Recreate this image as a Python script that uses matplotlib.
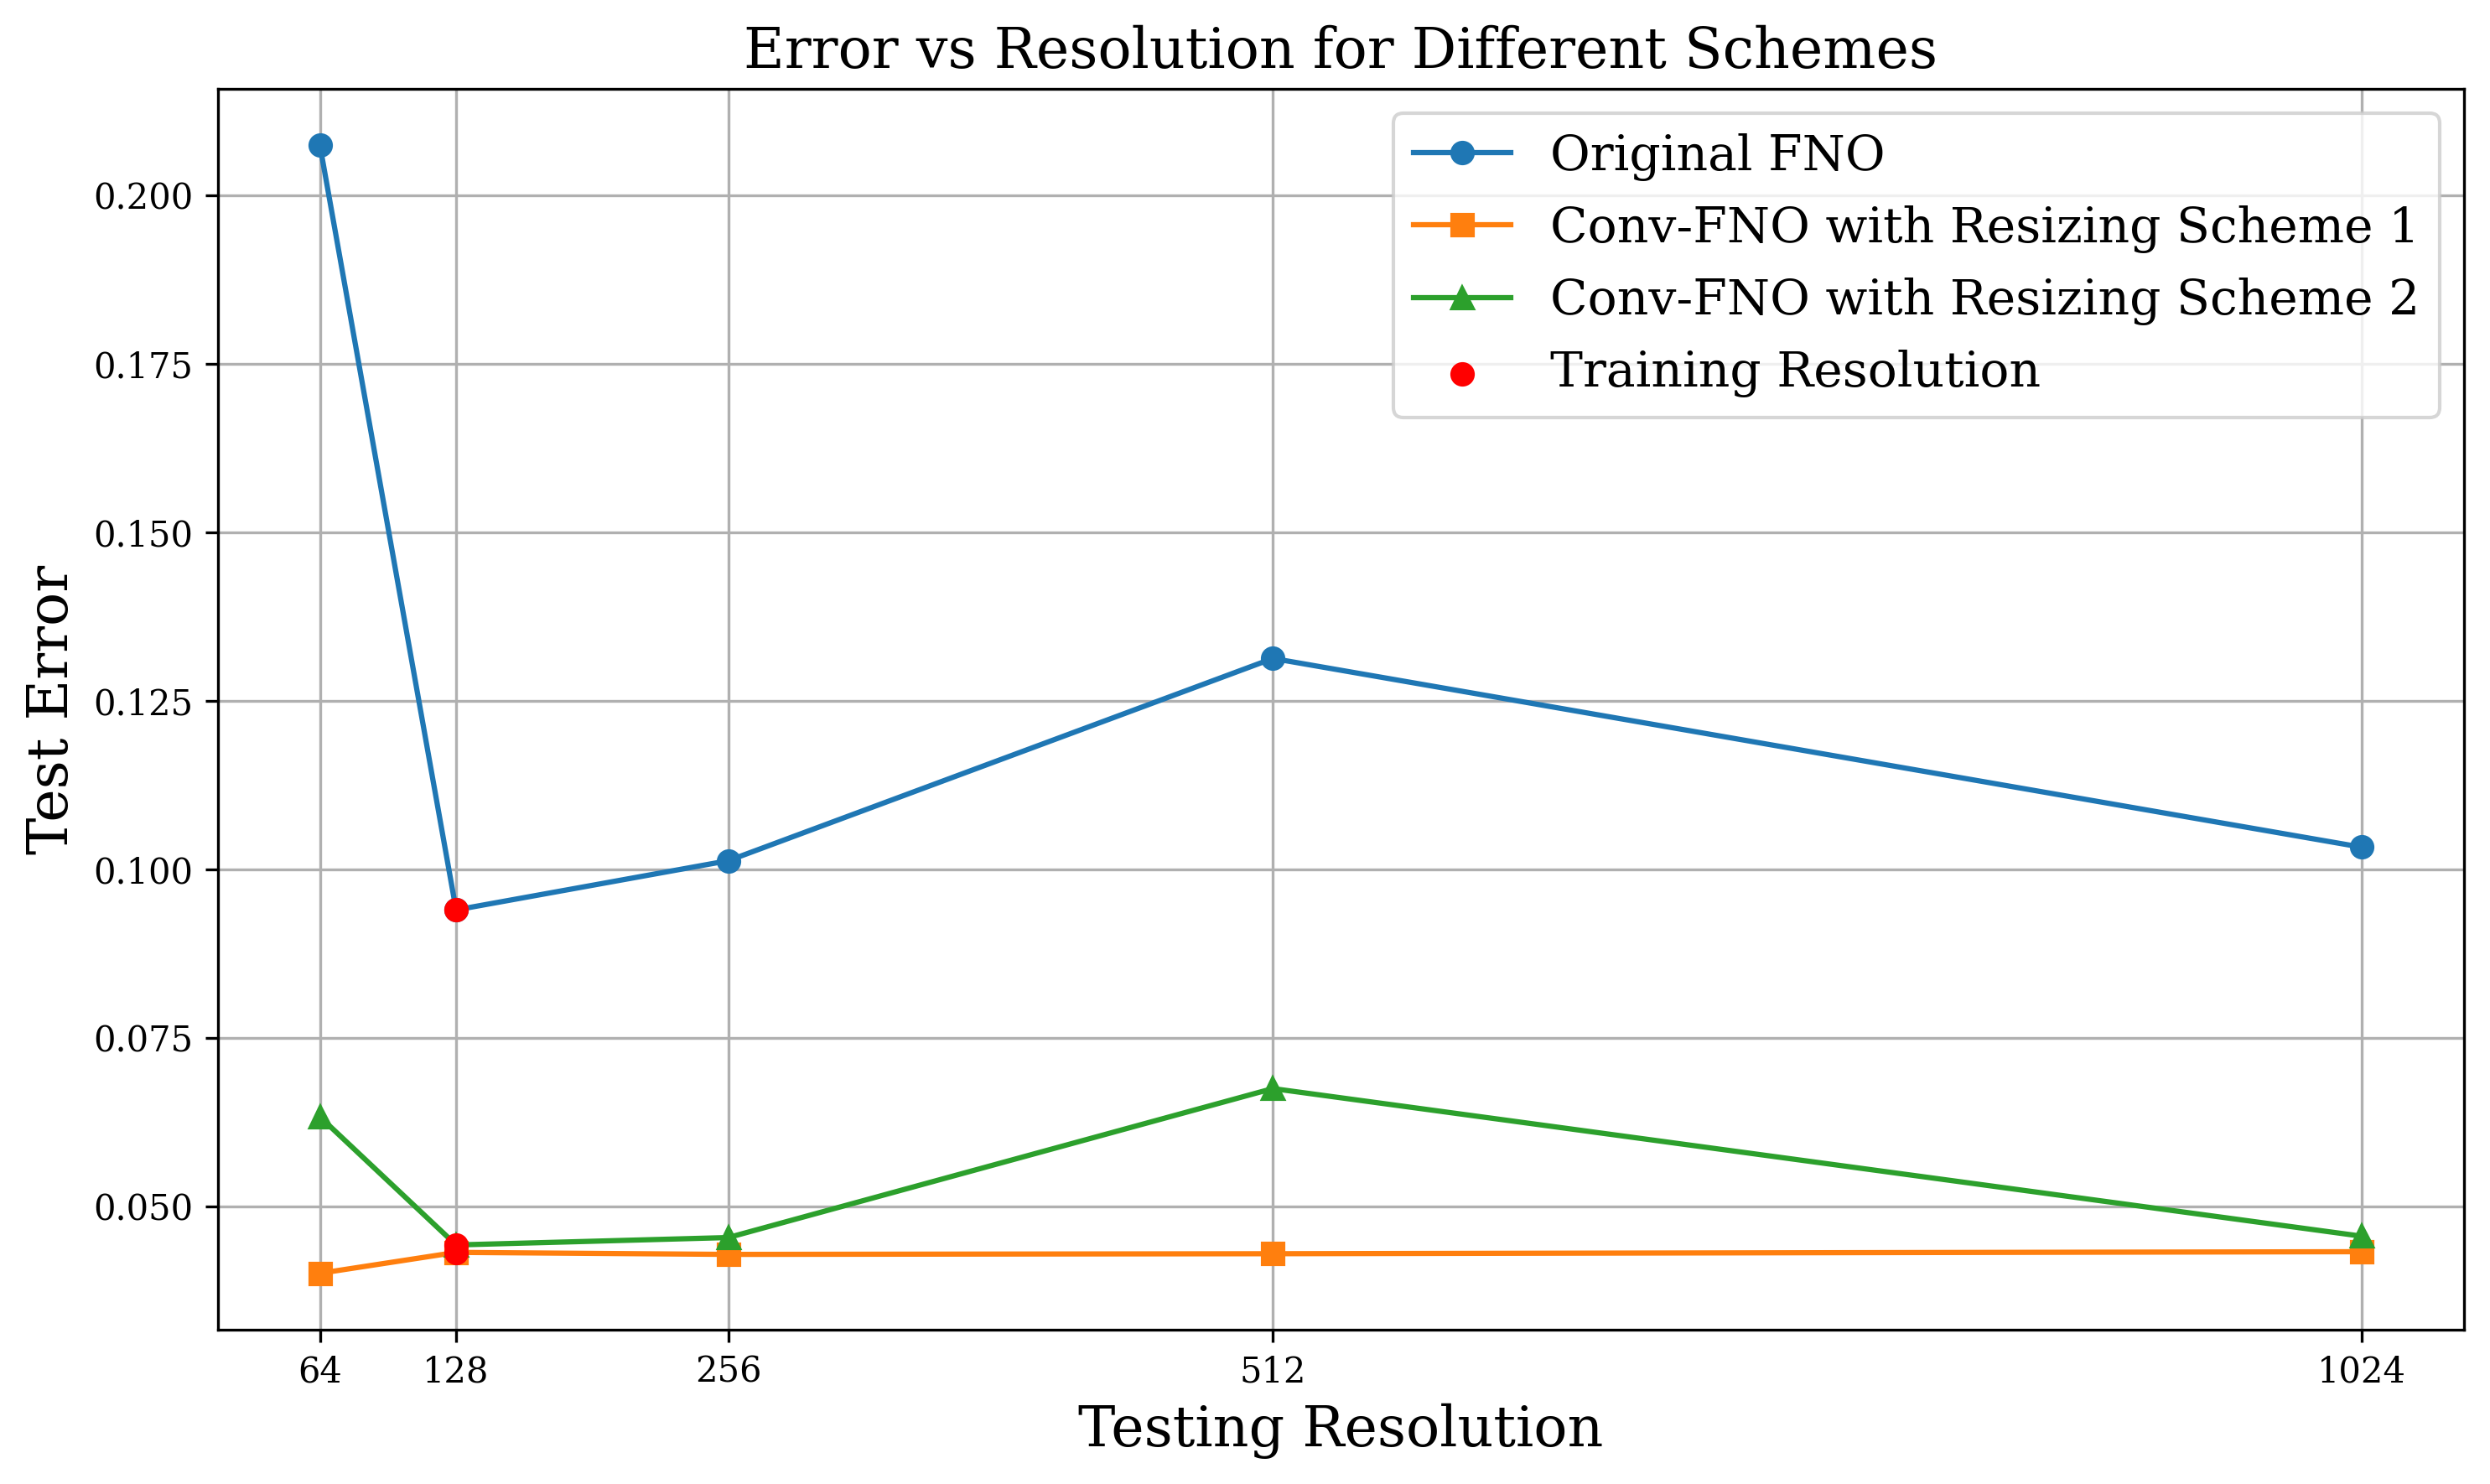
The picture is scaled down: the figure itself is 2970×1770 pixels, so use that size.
import matplotlib
matplotlib.use("Agg")
import matplotlib.pyplot as plt

plt.rcParams['font.family'] = 'serif'

resolutions = [64, 128, 256, 512, 1024]
original_fno = [0.2074, 0.0940, 0.1013, 0.1313, 0.1033]
conv_fno_s1 = [0.0401, 0.0432, 0.0429, 0.0430, 0.0433]
conv_fno_s2 = [0.0633, 0.0443, 0.0454, 0.0675, 0.0456]

train_res = 128
train_idx = resolutions.index(train_res)

fig, ax = plt.subplots(figsize=(9.9, 5.9), dpi=300)

ax.plot(resolutions, original_fno, marker='o', label='Original FNO')
ax.plot(resolutions, conv_fno_s1, marker='s', label='Conv-FNO with Resizing Scheme 1')
ax.plot(resolutions, conv_fno_s2, marker='^', label='Conv-FNO with Resizing Scheme 2')

# red dots on the training resolution, drawn above the lines
ax.scatter([train_res] * 3,
           [original_fno[train_idx], conv_fno_s1[train_idx], conv_fno_s2[train_idx]],
           color='red', zorder=5, label='Training Resolution')

ax.set_xticks(resolutions)
ax.set_xticklabels([str(r) for r in resolutions])
ax.set_xlabel('Testing Resolution', fontsize=16)
ax.set_ylabel('Test Error', fontsize=16)
ax.set_title('Error vs Resolution for Different Schemes', fontsize=16)
ax.legend(fontsize=14, loc='upper right')
ax.grid(True)

fig.subplots_adjust(left=0.0875, right=0.9895, bottom=0.104, top=0.940)
fig.savefig('out.png', dpi=300)
